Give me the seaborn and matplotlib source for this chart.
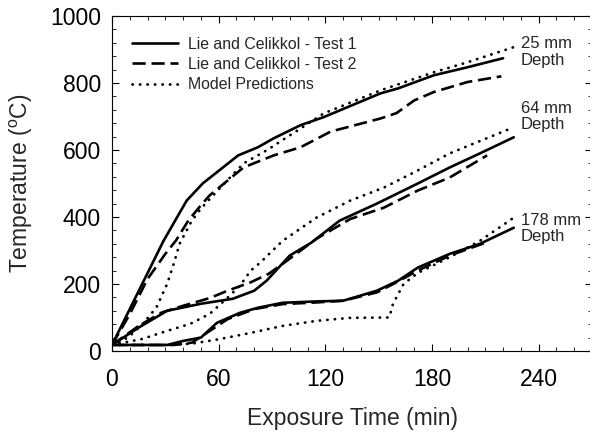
import matplotlib
matplotlib.use("Agg")
import matplotlib.pyplot as plt
from matplotlib.ticker import MultipleLocator
from matplotlib.lines import Line2D
import seaborn as sns
import pandas as pd

# ---- data ----
t25_test1 = [0, 29, 42, 51, 71, 82, 91, 106, 119, 151, 161, 181, 200, 220]
T25_test1 = [18, 329, 449, 500, 584, 608, 635, 674, 698, 769, 784, 823, 847, 874]
t25_test2 = [0, 10, 20, 30, 36, 43, 50, 55, 74, 91, 106, 123, 151, 160, 170, 181, 200, 219]
T25_test2 = [18, 110, 215, 290, 330, 390, 435, 465, 548, 584, 608, 655, 694, 710, 748, 773, 803, 820]
t25_model = [0, 6, 12, 18, 25, 31, 35, 38, 45, 50, 61, 74, 87, 106, 119, 151, 181, 200, 226]
T25_model = [20, 30, 54, 85, 130, 200, 265, 320, 390, 425, 488, 560, 599, 664, 709, 778, 832, 862, 907]

t64_test1 = [0, 15, 31, 50, 68, 80, 87, 100, 112, 128, 149, 172, 190, 207, 226]
T64_test1 = [18, 70, 120, 141, 156, 180, 210, 285, 323, 389, 440, 500, 548, 590, 638]
t64_test2 = [0, 15, 28, 40, 55, 65, 78, 88, 96, 115, 134, 153, 172, 190, 211]
T64_test2 = [18, 75, 115, 135, 158, 180, 205, 230, 260, 335, 394, 428, 479, 518, 584]
t64_model = [0, 17, 31, 44, 55, 65, 72, 78, 83, 96, 115, 134, 153, 172, 190, 226]
T64_model = [18, 36, 60, 81, 111, 159, 195, 240, 262, 329, 398, 449, 488, 539, 590, 668]

t178_test1 = [0, 31, 40, 50, 59, 72, 82, 96, 115, 130, 149, 161, 172, 190, 207, 226]
T178_test1 = [18, 18, 30, 40, 84, 114, 129, 144, 148, 150, 180, 210, 249, 290, 320, 368]
t178_test2 = [0, 35, 45, 55, 65, 80, 96, 115, 130, 149, 160, 172, 190, 211]
T178_test2 = [18, 18, 25, 60, 95, 125, 140, 145, 150, 175, 205, 240, 285, 325]
t178_model = [0, 30, 45, 60, 78, 96, 115, 134, 156, 158, 164, 172, 190, 207, 226]
T178_model = [18, 18, 22, 35, 54, 75, 90, 99, 100, 140, 200, 233, 280, 329, 398]

series_names = ["Lie and Celikkol - Test 1", "Lie and Celikkol - Test 2", "Model Predictions"]
depth_labels = ["25 mm\nDepth", "64 mm\nDepth", "178 mm\nDepth"]
label_pos_T = [893, 700, 365]
x_ticks = [0, 60, 120, 180, 240]
y_ticks = [0, 200, 400, 600, 800, 1000]

curves = [
    (series_names[0], t25_test1, T25_test1),
    (series_names[1], t25_test2, T25_test2),
    (series_names[2], t25_model, T25_model),
    (series_names[0], t64_test1, T64_test1),
    (series_names[1], t64_test2, T64_test2),
    (series_names[2], t64_model, T64_model),
    (series_names[0], t178_test1, T178_test1),
    (series_names[1], t178_test2, T178_test2),
    (series_names[2], t178_model, T178_model),
]

styles = {
    series_names[0]: dict(linestyle="-", linewidth=1.9),
    series_names[1]: dict(linestyle=(0, (5, 2.2)), linewidth=1.9),
    series_names[2]: dict(linestyle=(0, (0.1, 2.6)), linewidth=2.0, dash_capstyle="round"),
}

sns.set_theme(style="ticks")
plt.rcParams["font.family"] = ["Liberation Sans", "DejaVu Sans"]
plt.rcParams["mathtext.default"] = "regular"

fig = plt.figure(figsize=(5.9, 4.34), dpi=100)
ax = fig.add_axes([112 / 590, 1 - 351 / 434, 480 / 590, 335 / 434])

for name, t, T in curves:
    df = pd.DataFrame({"time": t, "temp": T})
    sns.lineplot(data=df, x="time", y="temp", ax=ax, color="black", sort=False,
                 estimator=None, **styles[name])

for lab, yv in zip(depth_labels, label_pos_T):
    ax.text(230, yv, lab, fontsize=12, ha="left", va="center", linespacing=1.12)

ax.set_xlim(0, 270)
ax.set_ylim(0, 1000)
ax.set_xticks(x_ticks)
ax.set_yticks(y_ticks)
ax.xaxis.set_minor_locator(MultipleLocator(10))
ax.yaxis.set_minor_locator(MultipleLocator(40))
ax.tick_params(which="both", direction="in", top=True, right=True, colors="black")
ax.tick_params(which="major", length=5, width=0.8, labelsize=16.5)
ax.tick_params(axis="x", which="major", pad=12)
ax.tick_params(axis="y", which="major", pad=8)
ax.tick_params(which="minor", length=3, width=0.6)
for s in ax.spines.values():
    s.set_linewidth(0.8)
    s.set_color("black")

ax.set_xlabel("Exposure Time (min)", fontsize=16.5, labelpad=12)
ax.set_ylabel("Temperature ($^o$C)", fontsize=16.5, labelpad=11)

handles = [Line2D([], [], color="black", **styles[n]) for n in series_names]
ax.legend(handles, series_names, loc="upper left", frameon=False, fontsize=11.4,
          handlelength=2.9, handletextpad=0.63, labelspacing=0.32,
          bbox_to_anchor=(0.012, 0.98))

fig.savefig("out.png", dpi=100)
